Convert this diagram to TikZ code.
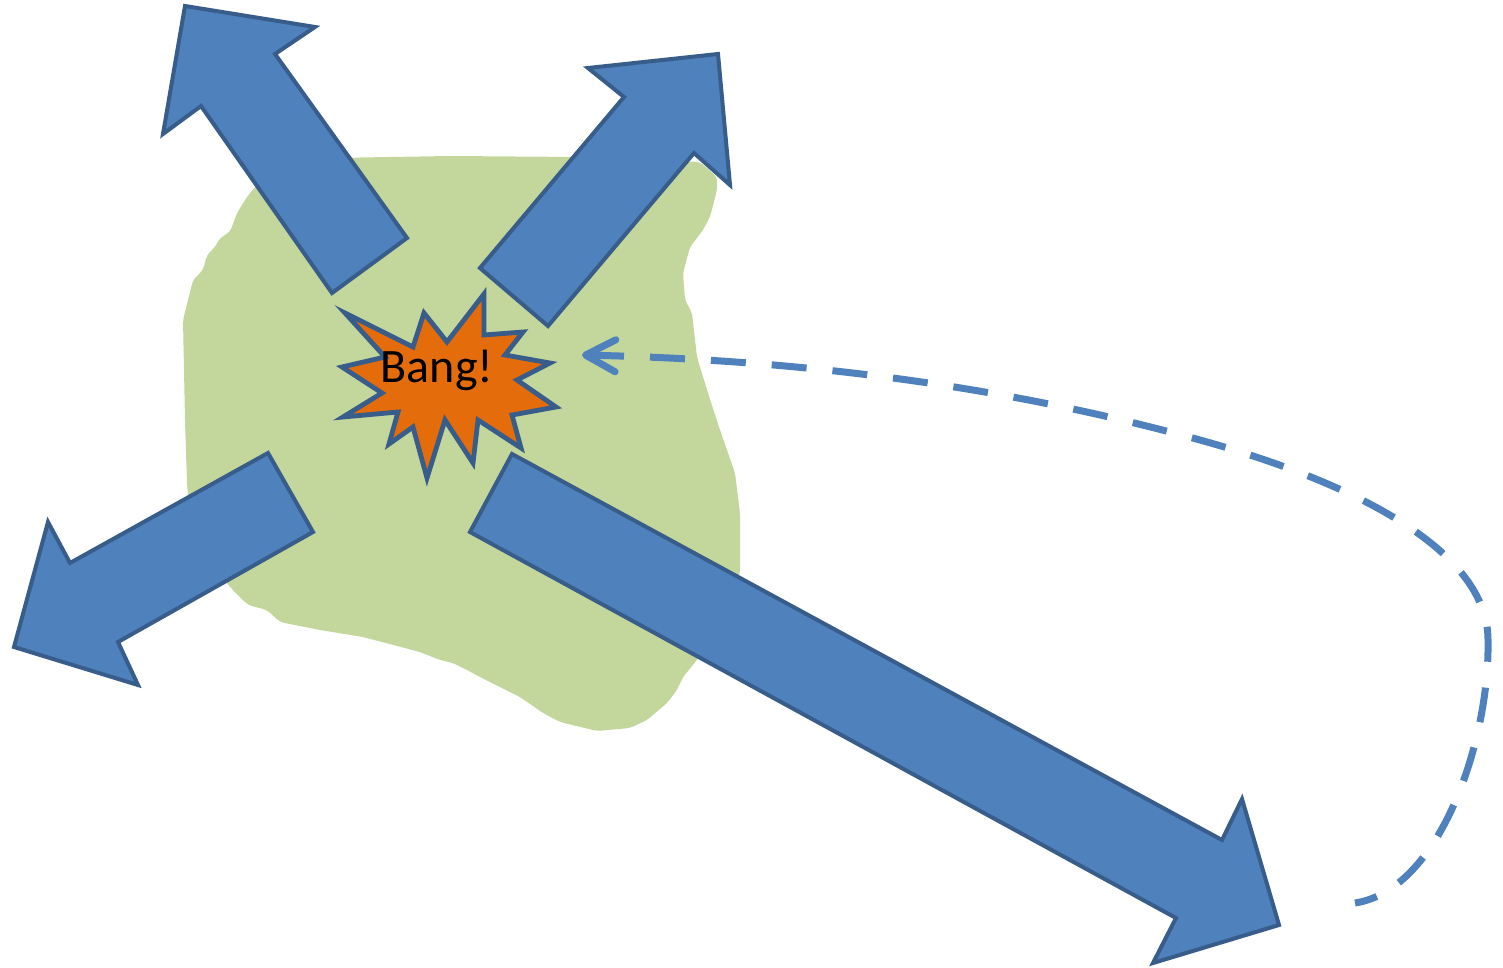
\documentclass[tikz,border=0pt]{standalone}
\usepackage{fontspec}
\setmainfont{Carlito}
\usetikzlibrary{arrows.meta}
\definecolor{arrowfill}{HTML}{4F81BD}
\definecolor{arrowline}{HTML}{385D8A}
\definecolor{blobgreen}{HTML}{C3D69B}
\definecolor{bangorange}{HTML}{E46C0A}
\begin{document}
\begin{tikzpicture}[x=0.5pt,y=-0.5pt,
  blockarrow/.style={fill=arrowfill, draw=arrowline, line width=2pt, line join=miter},
  blob/.style={fill=blobgreen, draw=none, rounded corners=2pt},
  burst/.style={fill=bangorange, draw=arrowline, line width=2.4pt, line join=miter},
  banglabel/.style={font=\fontsize{24}{28}\selectfont, text=black, inner sep=0pt},
  dashlink/.style={draw=arrowfill, line width=3.5pt, dash pattern=on 17.5pt off 13pt,
     {Straight Barb[length=15pt,width=16pt,round]}-}]
\useasboundingbox (0,0) rectangle (1503,968);
% green area
\path[blob] (255,187) -- (270,172) -- (330,158) -- (450,156) -- (580,157) -- (700,162)
 -- (717,177) -- (717,190) -- (710,217) -- (703,230) -- (690,247) -- (683,273)
 -- (685,300) -- (692,313) -- (697,357) -- (700,367) -- (708,393) -- (720,430)
 -- (735,473) -- (740,513) -- (740,573) -- (720,620) -- (697,660) -- (683,677)
 -- (677,690) -- (667,703) -- (647,720) -- (630,728) -- (597,731) -- (560,722)
 -- (543,713) -- (520,697) -- (510,692) -- (480,677) -- (467,670) -- (453,663)
 -- (440,660) -- (420,652) -- (363,637) -- (320,630) -- (280,622) -- (267,610)
 -- (248,605) -- (230,587) -- (210,560) -- (190,520) -- (187,483) -- (185,420)
 -- (183,320) -- (193,280) -- (203,270) -- (207,255) -- (215,247) -- (220,238)
 -- (230,232) -- (237,213) -- (247,197) -- cycle;
% block arrows
\path[blockarrow] (185,6) -- (315,27) -- (275,54) -- (407,238) -- (332,293) -- (201,106) -- (163,134) -- cycle;
\path[blockarrow] (718,54) -- (730,185) -- (694,153) -- (548,326) -- (480,268) -- (624,97) -- (588,68) -- cycle;
\path[blockarrow] (14,647) -- (48,522) -- (70,563) -- (268,453) -- (313,532) -- (118,642) -- (138,685) -- cycle;
\path[blockarrow] (1279,925) -- (1153,963) -- (1176,918) -- (470,532) -- (512,454) -- (1222,840) -- (1242,799) -- cycle;
% explosion
\path[burst] (345,313) -- (413,347) -- (424,313) -- (447,342) -- (484,294) -- (484,335)
 -- (523,332) -- (505,355) -- (550,363) -- (517,380) -- (556,407) -- (512,415)
 -- (521,448) -- (478,420) -- (473,463) -- (445,420) -- (427,478) -- (413,427)
 -- (389,444) -- (398,412) -- (343,417) -- (382,393) -- (342,367) -- (385,357) -- cycle;
\node[banglabel] (bang) at (437,370) {Bang!};
% dashed return connector
\coordinate (dstart) at (1355,903);
\coordinate (dend) at (582,355);
\draw[dashlink] (dend) .. controls (800,360) and (1000,385) .. (1200,440)
  .. controls (1380,490) and (1488,560) .. (1488,640)
  .. controls (1490,740) and (1440,890) .. (dstart);
\end{tikzpicture}
\end{document}
